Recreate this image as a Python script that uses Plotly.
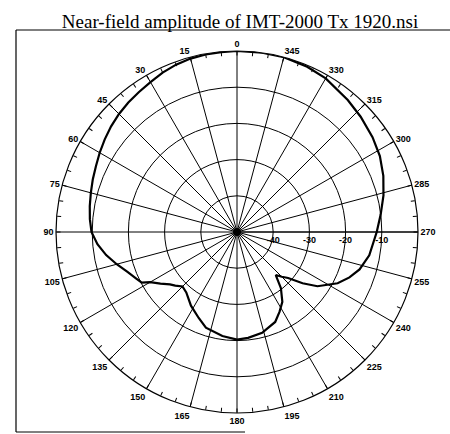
import plotly.graph_objects as go

TITLE = "Near-field amplitude of IMT-2000 Tx 1920.nsi"

# Pattern (angle in degrees, amplitude in dB)
THETA = [0, 5, 10, 15, 20, 25, 30, 35, 40, 45, 50, 55, 60, 65, 70, 75, 80, 85,
         90, 95, 100, 105, 110, 115, 118, 120, 124, 128, 131, 135, 140, 148,
         156, 162, 172, 180, 186, 194, 203, 208, 213, 218, 222, 225, 228, 232,
         236, 243, 248, 253, 260, 270, 277, 284, 291, 298, 305, 313, 320, 330,
         337, 345, 352, 360]
AMP_DB = [0, -0.1, -0.2, -0.4, -0.8, -1.4, -2.2, -2.8, -3.3, -3.9, -4.6, -5.4,
          -6.2, -7.0, -7.6, -8.2, -8.7, -9.2, -9.8, -11.3, -13.3, -15.6, -17.8,
          -19.4, -20.2, -22.3, -24.5, -26.5, -27.4, -28.7, -28.2, -26.0, -24.0,
          -22.2, -21.0, -20.3, -20.6, -21.3, -23.0, -25.0, -27.0, -30.3, -34.0,
          -32.5, -31.0, -27.0, -23.2, -18.8, -16.5, -14.6, -12.9, -11.4, -10.0,
          -8.3, -6.7, -5.3, -4.3, -3.3, -2.4, -1.0, -0.4, 0, 0, 0]

ANGLE_TICKS = list(range(0, 360, 15))
ANGLE_LABELS = [str(a) for a in ANGLE_TICKS]
MINOR_TICKS = list(range(0, 360, 5))
RADIAL_TICKS = [-40, -30, -20, -10]
RADIAL_LABELS = ["-40", "-30", "-20", "-10"]
R_RANGE = [-50, 0]

W, H = 450, 434
cx, cy, R = 237, 232, 181

fig = go.Figure()
fig.add_trace(go.Scatterpolar(
    r=AMP_DB, theta=THETA, mode="lines",
    line=dict(color="black", width=2.2), subplot="polar",
    showlegend=False, hoverinfo="skip"))

dom_x = [(cx - R) / W, (cx + R) / W]
dom_y = [(H - cy - R) / H, (H - cy + R) / H]

tick_font = dict(family="Liberation Sans", size=9, color="black", weight="bold")

fig.update_layout(
    width=W, height=H,
    margin=dict(l=0, r=0, t=0, b=0),
    paper_bgcolor="white",
    showlegend=False,
    title=dict(text=TITLE, x=240 / W, xanchor="center", y=1 - 21 / H, yanchor="middle",
               font=dict(family="Liberation Serif", size=19, color="black")),
    polar=dict(
        domain=dict(x=dom_x, y=dom_y),
        bgcolor="rgba(0,0,0,0)",
        angularaxis=dict(
            rotation=90, direction="counterclockwise",
            tickmode="array", tickvals=ANGLE_TICKS, ticktext=ANGLE_LABELS,
            ticks="", showline=True, linecolor="black", linewidth=1.2,
            gridcolor="black", gridwidth=1,
            tickfont=tick_font,
        ),
        radialaxis=dict(
            range=R_RANGE, angle=0, tickangle=0,
            tickmode="array", tickvals=RADIAL_TICKS, ticktext=RADIAL_LABELS,
            showline=True, linecolor="black", linewidth=1,
            gridcolor="black", gridwidth=1, ticks="",
            tickfont=tick_font,
            side="clockwise",
        ),
    ),
    polar2=dict(
        domain=dict(x=dom_x, y=dom_y),
        bgcolor="rgba(0,0,0,0)",
        angularaxis=dict(
            rotation=90, direction="counterclockwise",
            tickmode="array", tickvals=MINOR_TICKS,
            ticks="inside", ticklen=4, tickcolor="black", tickwidth=1,
            showticklabels=False, showgrid=False, showline=False,
        ),
        radialaxis=dict(range=R_RANGE, visible=False),
    ),
    shapes=[
        dict(type="line", xref="paper", yref="paper",
             x0=16 / W, x1=1, y0=1 - 30 / H, y1=1 - 30 / H,
             line=dict(color="black", width=1.2)),
        dict(type="line", xref="paper", yref="paper",
             x0=16 / W, x1=16 / W, y0=1 - 30 / H, y1=1 - 432 / H,
             line=dict(color="black", width=1.2)),
        dict(type="line", xref="paper", yref="paper",
             x0=16 / W, x1=245 / W, y0=1 - 432 / H, y1=1 - 432 / H,
             line=dict(color="black", width=1)),
        dict(type="circle", xref="paper", yref="paper",
             x0=(cx - 4) / W, x1=(cx + 4) / W, y0=(H - cy - 4) / H, y1=(H - cy + 4) / H,
             fillcolor="black", line=dict(color="black", width=0)),
    ],
)
# a dummy trace so polar2 is rendered
fig.add_trace(go.Scatterpolar(r=[], theta=[], subplot="polar2", showlegend=False))

fig.write_html("out.html", config={"displayModeBar": False},
               post_script="document.body.style.margin='0';")
